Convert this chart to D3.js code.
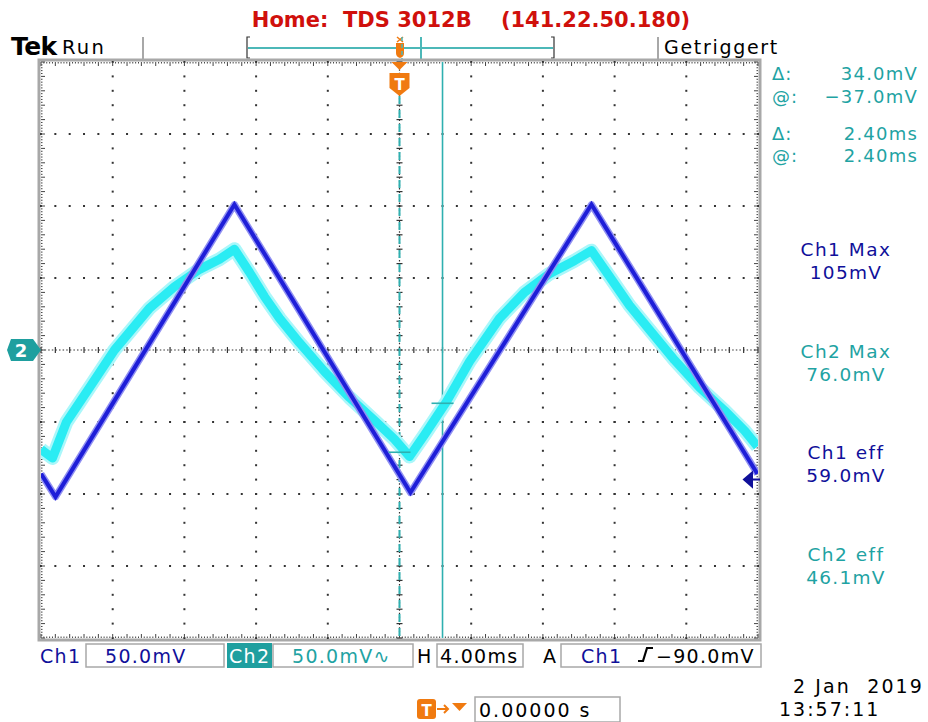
<!DOCTYPE html>
<html><head><meta charset="utf-8">
<script src="https://cdn.jsdelivr.net/npm/d3@7"></script>
<style>body{margin:0;background:#fff}svg{display:block}text{font-family:"DejaVu Sans",sans-serif}</style>
</head><body>
<svg id="c" width="928" height="722"></svg>
<script>
// ---- data (time in ms, voltage in mV) ----
const ch1Time = [-20.0, -19.19, -9.21, 0.61, 10.71, 19.97];
const ch1Volt = [-86, -102, 101, -99, 101, -86];
const ch2Time = [-20.0,-19.36,-18.58,-17.29,-15.90,-13.95,-12.55,-11.16,-10.04,-9.21,-8.37,-7.53,-6.69,-5.58,-4.18,-2.79,-1.39,-0.28,0.56,1.39,2.62,3.91,5.58,6.97,8.37,9.76,10.71,11.72,12.83,13.95,15.34,16.74,18.13,19.25,19.97];
const ch2Volt = [-69,-75,-50,-26,0,29,44,56,63,70,54,37,22,5,-15,-33,-49,-62,-74,-59,-36,-8,22,40,53,62,69,51,31,14,-7,-26,-42,-56,-67];
const voltsPerDiv = [50, 50];          // Ch1, Ch2 (mV/div)
const timePerDiv = 4;                   // ms/div
const cursorTimes = [0, 2.40];          // ms
const cursorVolts = [-71, -37];         // mV on Ch2
const trigLevel = -90;                  // mV on Ch1
const measLabels = ["Ch1 Max","Ch2 Max","Ch1 eff","Ch2 eff"];
const measValues = ["105mV","76.0mV","59.0mV","46.1mV"];
const cursorReadout = [["Δ:","34.0mV"],["@:","−37.0mV"],["Δ:","2.40ms"],["@:","2.40ms"]];

const svg = d3.select("#c");
const L=41, R=758, T=62, B=638;
const x = d3.scaleLinear().domain([-5*timePerDiv, 5*timePerDiv]).range([L,R]);
const y = d3.scaleLinear().domain([-4,4]).range([B,T]);
const teal="#1fa3a3", dblue="#10109a", grey="#a8a8a8";

// title
svg.append("text").attr("x",471).attr("y",27).attr("text-anchor","middle")
  .attr("font-family","Liberation Sans, Arial, sans-serif").attr("font-weight","bold")
  .attr("font-size",21).attr("fill","#d0100c").attr("xml:space","preserve")
  .text("Home:  TDS 3012B    (141.22.50.180)");

// top bar
svg.append("text").attr("x",11).attr("y",55).attr("font-family","Liberation Serif, serif")
  .attr("font-weight","bold").attr("font-size",25).attr("letter-spacing",-0.6).text("Tek");
svg.append("text").attr("x",62).attr("y",54).attr("font-size",19.5).attr("letter-spacing",2.2).text("Run");
svg.append("text").attr("x",664).attr("y",54).attr("font-size",19).attr("letter-spacing",1.7).text("Getriggert");
[143,658].forEach(px=>svg.append("line").attr("x1",px).attr("x2",px).attr("y1",37).attr("y2",60).attr("stroke",grey).attr("stroke-width",2));
// record view bracket
svg.append("line").attr("x1",248).attr("x2",553).attr("y1",48).attr("y2",48).attr("stroke","#4cb8b8").attr("stroke-width",2);
svg.append("path").attr("d","M250,37 H247 V58 H250 M551,37 H554 V58 H551").attr("fill","none").attr("stroke","#333").attr("stroke-width",1.2);
svg.append("line").attr("x1",421).attr("x2",421).attr("y1",37).attr("y2",60).attr("stroke","#4cb8b8").attr("stroke-width",2);
svg.append("path").attr("d","M396,43 h8 v10 q0,4 -4,5 q-4,-1 -4,-5z").attr("fill","#f07a10");
svg.append("path").attr("d","M397,37 l6,5 M403,37 l-6,5").attr("stroke","#f07a10").attr("stroke-width",1.5);
svg.append("line").attr("x1",402).attr("x2",402).attr("y1",37).attr("y2",60).attr("stroke","#4cb8b8").attr("stroke-width",1.5).attr("stroke-dasharray","4,3");

// frame
svg.append("rect").attr("x",L-2).attr("y",T-2).attr("width",R-L+4).attr("height",B-T+4)
  .attr("fill","none").attr("stroke",grey).attr("stroke-width",3);

const g = svg.append("g");
// graticule dots on major lines
const majorX = d3.range(1,10).map(i=>x(-20+i*timePerDiv));
const majorY = d3.range(1,8).map(i=>y(-4+i));
const subX = d3.range(0,51).map(i=>L+(R-L)*i/50);
const subY = d3.range(0,41).map(i=>T+(B-T)*i/40);
majorY.forEach((py,j)=>{ if(j===3) return; subX.forEach(px=>g.append("rect").attr("x",px-1).attr("y",py-1).attr("width",2).attr("height",2).attr("fill","#333")); });
majorX.forEach((px,j)=>{ if(j===4) return; subY.forEach(py=>g.append("rect").attr("x",px-1).attr("y",py-1).attr("width",2).attr("height",2).attr("fill","#333")); });
// center crosshair
const cx=x(0), cy=y(0);
g.append("line").attr("x1",L).attr("x2",R).attr("y1",cy).attr("y2",cy).attr("stroke","#333").attr("stroke-width",1.2).attr("stroke-dasharray","1.5,2.1");
g.append("line").attr("y1",T).attr("y2",B).attr("x1",cx).attr("x2",cx).attr("stroke","#333").attr("stroke-width",1.2).attr("stroke-dasharray","1.5,2.1");
subX.forEach(px=>g.append("line").attr("x1",px).attr("x2",px).attr("y1",cy-3).attr("y2",cy+3).attr("stroke","#333").attr("stroke-width",1.2));
subY.forEach(py=>g.append("line").attr("y1",py).attr("y2",py).attr("x1",cx-3).attr("x2",cx+3).attr("stroke","#333").attr("stroke-width",1.2));
// edge ticks
const fineX = d3.range(0,251).map(i=>L+(R-L)*i/250);
const fineY = d3.range(0,201).map(i=>T+(B-T)*i/200);
fineX.forEach((px,i)=>{const len=i%5===0?4:1.5;
  g.append("line").attr("x1",px).attr("x2",px).attr("y1",T).attr("y2",T+len).attr("stroke","#444");
  g.append("line").attr("x1",px).attr("x2",px).attr("y1",B-len).attr("y2",B).attr("stroke","#444");});
fineY.forEach((py,i)=>{const len=i%5===0?4:1.5;
  g.append("line").attr("y1",py).attr("y2",py).attr("x1",L).attr("x2",L+len).attr("stroke","#444");
  g.append("line").attr("y1",py).attr("y2",py).attr("x1",R-len).attr("x2",R).attr("stroke","#444");});

// cursors
svg.append("line").attr("x1",x(cursorTimes[0])).attr("x2",x(cursorTimes[0])).attr("y1",96).attr("y2",B)
  .attr("stroke","#2fb0b0").attr("stroke-width",2).attr("stroke-dasharray","8,6");
svg.append("line").attr("x1",x(cursorTimes[1])).attr("x2",x(cursorTimes[1])).attr("y1",T).attr("y2",B)
  .attr("stroke","#2fb0b0").attr("stroke-width",1.6);

// waveforms
const line = d3.line().x(d=>x(d[0])).y(d=>y(d[1]));
const ch2 = ch2Time.map((t,i)=>[t, ch2Volt[i]/voltsPerDiv[1]]);
const ch1 = ch1Time.map((t,i)=>[t, ch1Volt[i]/voltsPerDiv[0]]);
svg.append("clipPath").attr("id","pc").append("rect").attr("x",L).attr("y",T).attr("width",R-L).attr("height",B-T);
const w = svg.append("g").attr("clip-path","url(#pc)");
w.append("path").datum(ch2).attr("d",line).attr("fill","none").attr("stroke","#aaf7fa").attr("stroke-width",14).attr("stroke-linejoin","round");
w.append("path").datum(ch2).attr("d",line).attr("fill","none").attr("stroke","#2aecf3").attr("stroke-width",9).attr("stroke-linejoin","round");
w.append("path").datum(ch1).attr("d",line).attr("fill","none").attr("stroke","#9090f2").attr("stroke-width",7).attr("stroke-linejoin","round");
w.append("path").datum(ch1).attr("d",line).attr("fill","none").attr("stroke","#1e1ed8").attr("stroke-width",4).attr("stroke-linejoin","miter");

// horizontal cursor marks on Ch2
cursorTimes.forEach((t,i)=>svg.append("line").attr("x1",x(t)-11).attr("x2",x(t)+11).attr("y1",y(cursorVolts[i]/voltsPerDiv[1])).attr("y2",y(cursorVolts[i]/voltsPerDiv[1])).attr("stroke","#2fb0b0").attr("stroke-width",1.6));

// trigger marker T
svg.append("path").attr("d",`M${cx-8},${T} h16 l-8,8z`).attr("fill","#f07a10");
svg.append("path").attr("d",`M${cx-10},${T+11} h20 v15 l-10,8 l-10,-8z`).attr("fill","#f07a10");
svg.append("text").attr("x",cx).attr("y",T+28).attr("text-anchor","middle").attr("font-size",15).attr("font-weight","bold").attr("fill","#fff").text("T");

// Ch2 ground marker
svg.append("path").attr("d",`M11,${cy-11} h22 l8,11 l-8,11 h-22 l-4,-11z`).attr("fill","#1f9f9f");
svg.append("text").attr("x",21).attr("y",cy+7).attr("text-anchor","middle").attr("font-size",18).attr("font-weight","bold").attr("fill","#fff").text("2");
// trigger level arrow
const ty=y(trigLevel/voltsPerDiv[0]);
svg.append("path").attr("d",`M744,${ty} l8,-7 v14z M750,${ty} H760`).attr("fill",dblue).attr("stroke",dblue).attr("stroke-width",2);

// right readouts
const ry=[80,103,140,162];
cursorReadout.forEach((r,i)=>{
  svg.append("text").attr("x",772).attr("y",ry[i]).attr("font-size",18).attr("letter-spacing",1).attr("fill",teal).text(r[0]);
  svg.append("text").attr("x",918).attr("y",ry[i]).attr("text-anchor","end").attr("font-size",18).attr("letter-spacing",1.2).attr("fill",teal).text(r[1]);
});
const my=[256,358,459,561];
measLabels.forEach((lab,i)=>{
  const col = lab.startsWith("Ch1")?dblue:teal;
  svg.append("text").attr("x",846).attr("y",my[i]).attr("text-anchor","middle").attr("font-size",18.5).attr("letter-spacing",1.5).attr("fill",col).text(lab);
  svg.append("text").attr("x",846).attr("y",my[i]+23).attr("text-anchor","middle").attr("font-size",18.5).attr("letter-spacing",1.3).attr("fill",col).text(measValues[i]);
});

// bottom bar
const bb=svg.append("g");
function box(x0,x1,y0,y1){bb.append("rect").attr("x",x0).attr("y",y0).attr("width",x1-x0).attr("height",y1-y0).attr("fill","none").attr("stroke",grey).attr("stroke-width",1.5);}
box(86,224,644,667); box(273,413,644,667); box(437,523,644,667); box(561,761,644,667);
bb.append("rect").attr("x",227).attr("y",643).attr("width",45).attr("height",25).attr("fill","#1f9f9f");
const bt=(tx,px,col)=>bb.append("text").attr("x",px).attr("y",663).attr("font-size",19).attr("letter-spacing",1.3).attr("fill",col).text(tx);
bt("Ch1",40,dblue); bt(`${voltsPerDiv[0].toFixed(1)}mV`,105,dblue);
bt("Ch2",229,"#fff"); bt(`${voltsPerDiv[1].toFixed(1)}mV∿`,292,teal);
bt("H",417,"#000"); bt(`${timePerDiv.toFixed(2)}ms`,440,"#000");
bt("A",543,"#000"); bt("Ch1",581,dblue); bt(`−${Math.abs(trigLevel).toFixed(1)}mV`,656,"#000");
// rising-edge slope symbol
bb.append("path").attr("d","M638,661 h5 l4,-13 h6").attr("fill","none").attr("stroke","#000").attr("stroke-width",2.2);

// bottom status
svg.append("path").attr("d","M420,699 h13 q3,0 3,3 v14 q0,3 -3,3 h-13 q-3,0 -3,-3 v-14 q0,-3 3,-3z").attr("fill","#f07a10");
svg.append("text").attr("x",426.5).attr("y",716).attr("text-anchor","middle").attr("font-size",15).attr("font-weight","bold").attr("fill","#fff").text("T");
svg.append("path").attr("d","M437,709 h10 M444,705 l4,4 l-4,4").attr("fill","none").attr("stroke","#f07a10").attr("stroke-width",2);
svg.append("path").attr("d","M452,703 h15 l-7.5,8z").attr("fill","#f07a10");
svg.append("rect").attr("x",475).attr("y",697).attr("width",145).attr("height",25).attr("fill","none").attr("stroke",grey).attr("stroke-width",1.5);
svg.append("text").attr("x",479).attr("y",717).attr("font-size",19).attr("letter-spacing",2).text("0.00000 s");
svg.append("text").attr("x",793).attr("y",693).attr("font-size",19).attr("letter-spacing",2.1).attr("xml:space","preserve").text("2 Jan  2019");
svg.append("text").attr("x",779).attr("y",716).attr("font-size",19).attr("letter-spacing",2).text("13:57:11");
</script>
</body></html>
